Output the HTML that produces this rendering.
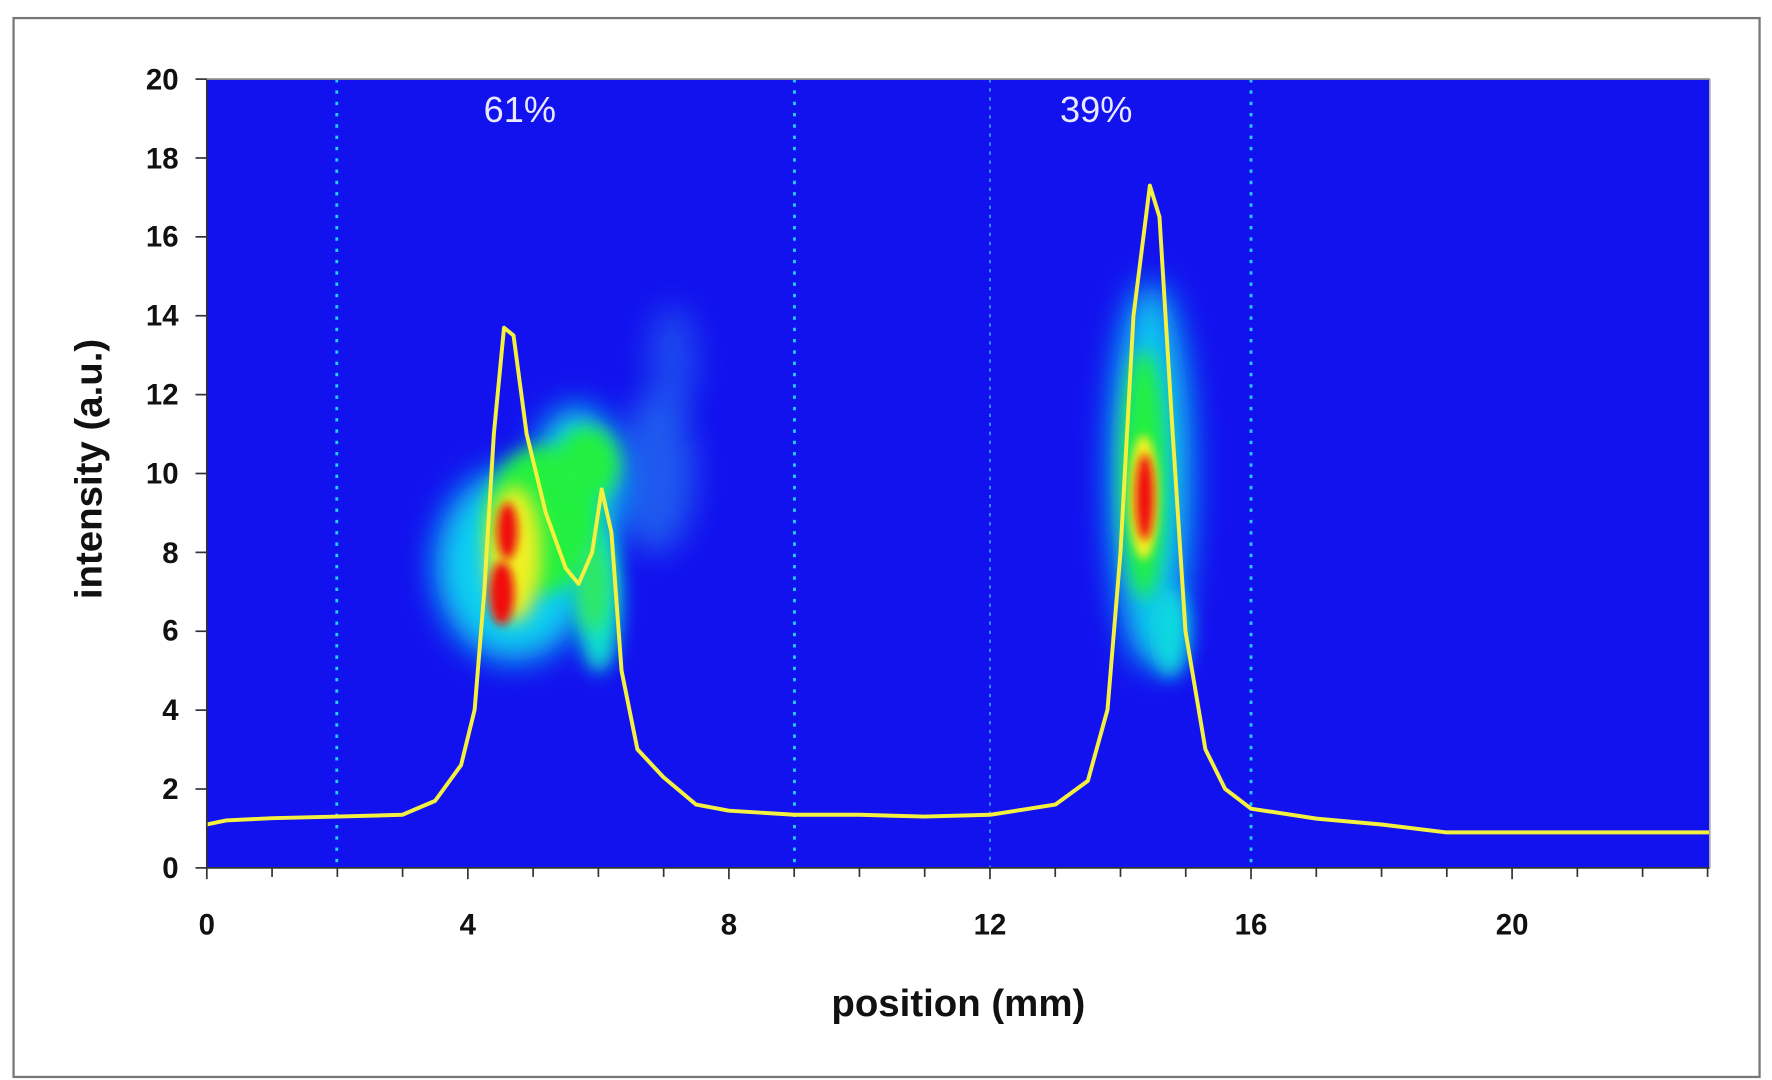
<!DOCTYPE html>
<html><head><meta charset="utf-8"><style>
html,body{margin:0;padding:0;background:#fff;width:1772px;height:1080px;overflow:hidden}
svg{display:block}
text{font-family:"Liberation Sans",Arial,sans-serif}
</style></head><body>
<svg width="1772" height="1080" viewBox="0 0 1568 955.7" preserveAspectRatio="none">
<defs>
<filter id="b1" x="-50%" y="-50%" width="200%" height="200%"><feGaussianBlur stdDeviation="14"/></filter>
<filter id="b2" x="-50%" y="-50%" width="200%" height="200%"><feGaussianBlur stdDeviation="8"/></filter>
<filter id="b3" x="-50%" y="-50%" width="200%" height="200%"><feGaussianBlur stdDeviation="4"/></filter>
<clipPath id="pc"><rect x="183" y="70" width="1330" height="698"/></clipPath>
</defs>
<rect x="12" y="16" width="1545" height="937" fill="#fff" stroke="#777" stroke-width="2"/>
<rect x="183" y="70" width="1330" height="698" fill="#1212ee"/>
<g clip-path="url(#pc)">
<ellipse cx="595" cy="320" rx="22" ry="50" fill="#2a8cf0" opacity="0.45" filter="url(#b1)"/>
<ellipse cx="580" cy="420" rx="35" ry="70" fill="#2aa0f0" opacity="0.5" filter="url(#b1)"/>
<ellipse cx="455" cy="500" rx="70" ry="85" fill="#10d0f0" filter="url(#b1)"/>
<ellipse cx="510" cy="430" rx="40" ry="70" fill="#10d8e8" filter="url(#b1)"/>
<ellipse cx="530" cy="530" rx="20" ry="65" fill="#10e0d0" filter="url(#b2)"/>
<ellipse cx="480" cy="460" rx="50" ry="65" fill="#20f040" filter="url(#b2)"/>
<ellipse cx="520" cy="410" rx="28" ry="32" fill="#20f040" filter="url(#b2)"/>
<ellipse cx="525" cy="520" rx="14" ry="40" fill="#30e860" filter="url(#b2)"/>
<ellipse cx="455" cy="490" rx="24" ry="60" fill="#f0f020" filter="url(#b2)"/>
<ellipse cx="449" cy="470" rx="9" ry="25" fill="#f01010" filter="url(#b3)"/>
<ellipse cx="444" cy="525" rx="11" ry="28" fill="#f01010" filter="url(#b3)"/>
<ellipse cx="1018" cy="420" rx="36" ry="170" fill="#10c8f0" filter="url(#b1)"/>
<ellipse cx="1035" cy="560" rx="18" ry="40" fill="#10d8e0" filter="url(#b2)"/>
<ellipse cx="1012" cy="420" rx="20" ry="110" fill="#20f040" filter="url(#b2)"/>
<ellipse cx="1012" cy="440" rx="13" ry="55" fill="#f0f020" filter="url(#b3)"/>
<ellipse cx="1013" cy="440" rx="8" ry="38" fill="#f01010" filter="url(#b3)"/>
</g>
<g stroke="#20d0ff" stroke-width="2.5" stroke-dasharray="3,7">
<line x1="298" y1="70" x2="298" y2="768"/>
<line x1="703" y1="70" x2="703" y2="768"/>
<line x1="1107" y1="70" x2="1107" y2="768"/>
</g>
<line x1="876" y1="70" x2="876" y2="768" stroke="#40c0ff" stroke-width="1.2" stroke-dasharray="3,5"/>
<text x="460" y="108" fill="#e8e8ff" font-size="32" text-anchor="middle">61%</text>
<text x="970" y="108" fill="#e8e8ff" font-size="32" text-anchor="middle">39%</text>
<polyline fill="none" stroke="#f4f040" stroke-width="3.5" stroke-linejoin="round" clip-path="url(#pc)" points="183,729.6 200,726 241,724 298.5,722.6 356,721 385,708.7 408,677 420,628 428.5,523.7 437,384 446,290 454.4,296.8 466,384 483,454 500.6,502.8 512,516.7 524,488.8 532.4,433 541,471 550,593.5 564,663 587,687.7 616,712 645,717.4 703,721 760.5,721 818,722.6 876,721 933.8,712 962.6,691 980,628 991.5,488.8 1003,279.4 1017.5,164.2 1026,192 1037.7,384 1049,558.6 1066.6,663 1084,698 1107,715.6 1164.8,724.4 1222.5,729.6 1280,736.6 1513,736.6"/>
<g stroke="#333" stroke-width="1.5">
<line x1="183" y1="70" x2="183" y2="768"/>
<line x1="183" y1="768" x2="1513" y2="768"/>
<line x1="1513" y1="70" x2="1513" y2="768" stroke="#aaa"/>
<line x1="183" y1="70" x2="1513" y2="70" stroke="#888"/>
</g>
<g stroke="#333" stroke-width="1.5">
<line x1="173" y1="70" x2="183" y2="70"/><line x1="173" y1="139.8" x2="183" y2="139.8"/>
<line x1="173" y1="209.6" x2="183" y2="209.6"/><line x1="173" y1="279.4" x2="183" y2="279.4"/>
<line x1="173" y1="349.2" x2="183" y2="349.2"/><line x1="173" y1="419" x2="183" y2="419"/>
<line x1="173" y1="488.8" x2="183" y2="488.8"/><line x1="173" y1="558.6" x2="183" y2="558.6"/>
<line x1="173" y1="628.4" x2="183" y2="628.4"/><line x1="173" y1="698.2" x2="183" y2="698.2"/>
<line x1="173" y1="768" x2="183" y2="768"/>
</g>
<g stroke="#333" stroke-width="1.5">
<line x1="183" y1="768" x2="183" y2="778"/><line x1="240.75" y1="768" x2="240.75" y2="776"/><line x1="298.5" y1="768" x2="298.5" y2="776"/><line x1="356.25" y1="768" x2="356.25" y2="776"/>
<line x1="414" y1="768" x2="414" y2="778"/><line x1="471.75" y1="768" x2="471.75" y2="776"/><line x1="529.5" y1="768" x2="529.5" y2="776"/><line x1="587.25" y1="768" x2="587.25" y2="776"/>
<line x1="645" y1="768" x2="645" y2="778"/><line x1="702.75" y1="768" x2="702.75" y2="776"/><line x1="760.5" y1="768" x2="760.5" y2="776"/><line x1="818.25" y1="768" x2="818.25" y2="776"/>
<line x1="876" y1="768" x2="876" y2="778"/><line x1="933.75" y1="768" x2="933.75" y2="776"/><line x1="991.5" y1="768" x2="991.5" y2="776"/><line x1="1049.25" y1="768" x2="1049.25" y2="776"/>
<line x1="1107" y1="768" x2="1107" y2="778"/><line x1="1164.75" y1="768" x2="1164.75" y2="776"/><line x1="1222.5" y1="768" x2="1222.5" y2="776"/><line x1="1280.25" y1="768" x2="1280.25" y2="776"/>
<line x1="1338" y1="768" x2="1338" y2="778"/><line x1="1395.75" y1="768" x2="1395.75" y2="776"/><line x1="1453.5" y1="768" x2="1453.5" y2="776"/><line x1="1511" y1="768" x2="1511" y2="776"/>
</g>
<g font-size="26" fill="#111" text-anchor="end" font-weight="bold">
<text x="158" y="79">20</text><text x="158" y="149">18</text><text x="158" y="218">16</text>
<text x="158" y="288">14</text><text x="158" y="358">12</text><text x="158" y="428">10</text>
<text x="158" y="498">8</text><text x="158" y="567">6</text><text x="158" y="637">4</text>
<text x="158" y="707">2</text><text x="158" y="777">0</text>
</g>
<g font-size="26" fill="#111" text-anchor="middle" font-weight="bold">
<text x="183" y="827">0</text><text x="414" y="827">4</text><text x="645" y="827">8</text>
<text x="876" y="827">12</text><text x="1107" y="827">16</text><text x="1338" y="827">20</text>
</g>
<text x="848" y="899" font-size="34" font-weight="bold" fill="#111" text-anchor="middle">position (mm)</text>
<text transform="translate(90,415) rotate(-90)" font-size="34" font-weight="bold" fill="#111" text-anchor="middle">intensity (a.u.)</text>
</svg>
</body></html>
